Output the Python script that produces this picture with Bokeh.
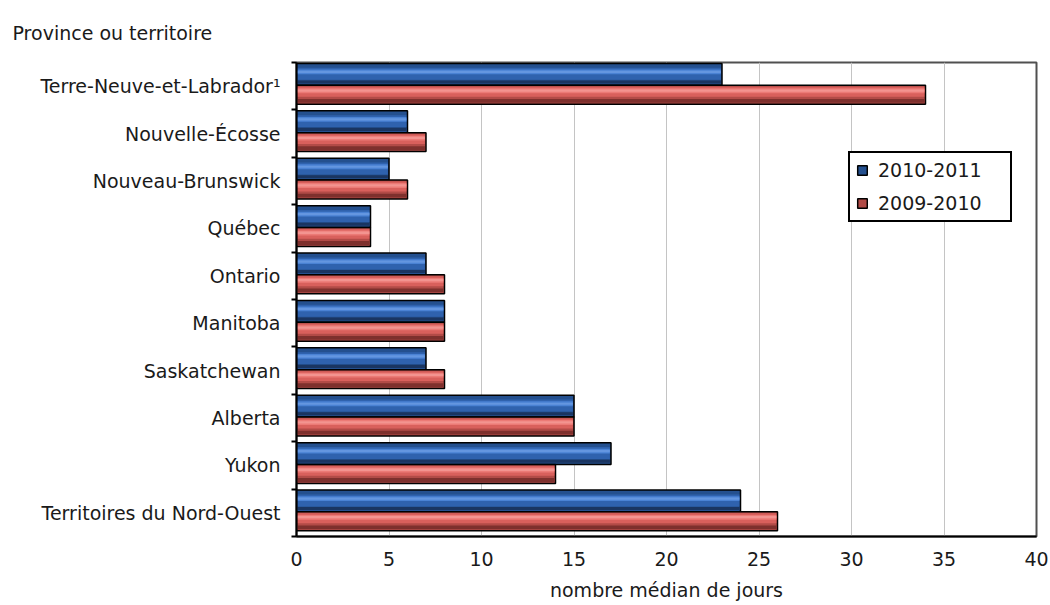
from bokeh.plotting import figure
from bokeh.models import FixedTicker, Legend, LegendItem, ColumnDataSource
from bokeh.embed import file_html
from bokeh.resources import INLINE

provinces = ["Terre-Neuve-et-Labrador\u00b9", "Nouvelle-\u00c9cosse", "Nouveau-Brunswick", "Qu\u00e9bec",
             "Ontario", "Manitoba", "Saskatchewan", "Alberta", "Yukon", "Territoires du Nord-Ouest"]
series_names = ["2010-2011", "2009-2010"]
values_2010_2011 = [23, 6, 5, 4, 7, 8, 7, 15, 17, 24]
values_2009_2010 = [34, 7, 6, 4, 8, 8, 8, 15, 14, 26]
x_ticks = [0, 5, 10, 15, 20, 25, 30, 35, 40]

FONT = "DejaVu Sans"
FS = "19px"
TXT = "#1a1a1a"
n = len(provinces)
pos = [n - 1 - i for i in range(n)]

p = figure(width=1050, height=605, output_backend="svg", toolbar_location=None,
           x_range=(0, 40), y_range=(-0.5, n - 0.5),
           min_border_left=296, min_border_right=14, min_border_top=62, min_border_bottom=69,
           title="Province ou territoire")
p.title.align = "left"
p.title.offset = -284
p.title.standoff = 37
p.title.text_font = FONT
p.title.text_font_size = FS
p.title.text_font_style = "normal"
p.title.text_color = TXT

p.background_fill_color = "white"
p.border_fill_color = "white"
p.outline_line_color = "#505050"
p.outline_line_width = 2

# x axis
p.xaxis.ticker = FixedTicker(ticks=x_ticks)
p.xaxis.axis_label = "nombre m\u00e9dian de jours"
p.xaxis.axis_label_text_font = FONT
p.xaxis.axis_label_text_font_style = "normal"
p.xaxis.axis_label_text_font_size = FS
p.xaxis.axis_label_text_color = TXT
p.xaxis.axis_label_standoff = 10
p.xaxis.major_label_text_font = FONT
p.xaxis.major_label_text_font_size = FS
p.xaxis.major_label_text_color = TXT
p.xaxis.major_label_standoff = 15
p.xaxis.major_tick_out = 0
p.xaxis.major_tick_in = 0
p.xaxis.major_tick_line_color = None
p.xaxis.minor_tick_line_color = None
p.xaxis.axis_line_color = "black"
p.xaxis.axis_line_width = 2

# y axis: labels at centers, ticks at boundaries
p.yaxis.ticker = FixedTicker(ticks=pos, minor_ticks=[k - 0.5 for k in range(n + 1)])
p.yaxis.major_label_overrides = {pos[i]: provinces[i] for i in range(n)}
p.yaxis.major_label_text_font = FONT
p.yaxis.major_label_text_font_size = FS
p.yaxis.major_label_text_color = TXT
p.yaxis.major_label_standoff = 11
p.yaxis.major_tick_out = 0
p.yaxis.major_tick_in = 0
p.yaxis.major_tick_line_color = None
p.yaxis.minor_tick_line_color = "black"
p.yaxis.minor_tick_line_width = 2
p.yaxis.minor_tick_out = 5
p.yaxis.minor_tick_in = 0
p.yaxis.axis_line_color = "black"
p.yaxis.axis_line_width = 2

p.xgrid.ticker = FixedTicker(ticks=x_ticks[1:-1])
p.xgrid.grid_line_color = "#c4c4c4"
p.xgrid.grid_line_width = 1
p.ygrid.grid_line_color = None

def bar_layers(vals, top_off, h, base, layers):
    tops = [y + top_off for y in pos]
    src = ColumnDataSource(dict(v=vals, top=tops, bottom=[t - h for t in tops]))
    base_r = p.quad(left=0, right="v", top="top", bottom="bottom", source=src,
                    fill_color=base, line_color="black", line_width=1.5)
    for f0, f1, col in layers:
        s = ColumnDataSource(dict(v=[v - 0.06 for v in vals],
                                  top=[t - h * f0 for t in tops], bottom=[t - h * f1 for t in tops]))
        p.quad(left=0.06, right="v", top="top", bottom="bottom", source=s,
               fill_color=col, line_color=None)
    return base_r

blue_r = bar_layers(values_2010_2011, 0.48, 0.46, "#24508F",
                    [(0.2, 0.75, "#2F62AE"), (0.28, 0.5, "#4A82D4"), (0.34, 0.44, "#6496E0"),
                     (0.78, 0.92, "#1A3561")])
red_r = bar_layers(values_2009_2010, 0.02, 0.40, "#B24B47",
                   [(0.08, 0.6, "#D9605C"), (0.16, 0.42, "#EC7A76"), (0.22, 0.34, "#F39490"),
                    (0.72, 0.92, "#7E302D")])

legend = Legend(items=[LegendItem(label=series_names[0], renderers=[blue_r]),
                       LegendItem(label=series_names[1], renderers=[red_r])],
                location=(552, 314))
legend.border_line_color = "black"
legend.border_line_alpha = 1
legend.border_line_width = 2
legend.background_fill_color = "white"
legend.background_fill_alpha = 1
legend.label_text_font = FONT
legend.label_text_font_size = FS
legend.label_text_color = TXT
legend.glyph_width = 12
legend.glyph_height = 12
legend.spacing = 11
legend.padding = 6
legend.margin = 0
legend.label_standoff = 10
legend.label_height = 18
legend.label_width = 126
p.add_layout(legend)

open("out.html", "w").write(file_html(p, INLINE))
